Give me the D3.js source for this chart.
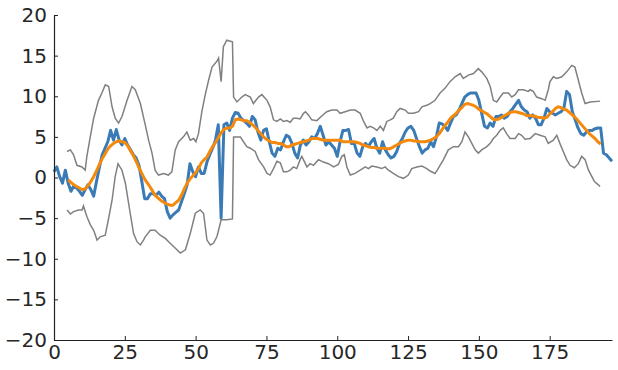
<!DOCTYPE html>
<html>
<head>
<meta charset="utf-8">
<script src="https://cdn.jsdelivr.net/npm/d3@7"></script>
<style>
  body { margin: 0; background: #fff; }
  svg { display: block; }
</style>
</head>
<body>
<svg width="618" height="370"></svg>
<script>
// raw signal, one value per step (x = 0..197)
var signal = [
  0.7, 1.3, 0.1, -0.7, 0.9, -0.7, -1.7, -1.0, -1.3, -1.7,
  -2.2, -1.5, -0.9, -1.5, -2.3, -0.5, 1.2, 2.8, 3.6, 4.4,
  5.8, 4.6, 5.9, 4.6, 4.0, 4.8, 4.0, 3.4, 2.8, 2.4,
  1.5, -0.5, -2.6, -2.6, -2.0, -2.0, -2.2, -1.8, -2.3, -2.6,
  -4.2, -5.0, -4.6, -4.3, -4.0, -3.0, -2.0, -0.9, 1.7, 0.7,
  0.1, 1.3, 0.5, 0.5, 1.9, 2.8, 3.6, 4.6, 6.5, -5.0,
  6.5, 6.7, 5.8, 7.3, 8.0, 7.9, 7.3, 7.0, 6.7, 6.3,
  7.5, 7.1, 5.6, 4.6, 5.8, 6.0, 4.4, 3.0, 2.6, 3.6,
  3.4, 4.4, 5.2, 5.0, 4.2, 3.0, 2.4, 4.0, 4.6, 4.0,
  4.4, 5.0, 4.8, 5.4, 6.3, 5.2, 4.0, 4.4, 4.0, 3.6,
  2.6, 4.4, 5.8, 5.8, 5.9, 4.2, 4.2, 3.0, 2.6, 3.8,
  4.2, 3.8, 4.4, 4.8, 3.6, 3.0, 4.4, 3.4, 2.8, 2.4,
  2.6, 3.2, 4.2, 4.8, 5.6, 6.1, 6.3, 5.8, 4.8, 3.8,
  3.0, 3.4, 3.6, 4.4, 3.8, 5.0, 6.7, 6.6, 6.3, 5.8,
  6.7, 7.5, 7.7, 8.3, 9.1, 9.9, 10.2, 10.4, 10.4, 10.4,
  9.5, 7.9, 6.3, 6.1, 6.7, 6.3, 7.5, 7.5, 7.7, 7.3,
  7.5, 8.1, 8.5, 9.0, 9.5, 8.7, 8.3, 8.1, 7.3, 7.7,
  7.3, 6.5, 6.5, 7.3, 8.5, 8.1, 7.9, 7.7, 7.9, 8.1,
  8.5, 10.6, 10.2, 8.1, 7.1, 6.1, 5.4, 5.2, 5.6, 5.8,
  5.8, 6.0, 6.1, 6.1, 3.0, 2.8, 2.4, 2.0
];

// smoothed signal, x = 5..193
var smoothStart = 5;
var smooth = [
  -0.3, -0.6, -0.9, -1.1, -1.3, -1.5, -1.4, -1.0, -0.5, 0.1,
  0.8, 1.6, 2.3, 2.9, 3.5, 3.9, 4.2, 4.4, 4.5, 4.4,
  4.3, 3.9, 3.3, 2.7, 2.0, 1.2, 0.5, -0.2, -0.7, -1.2,
  -1.8, -2.3, -2.6, -2.9, -3.1, -3.3, -3.4, -3.4, -3.1, -2.8,
  -2.2, -1.4, -0.7, -0.2, 0.2, 0.6, 1.1, 1.8, 2.2, 2.5,
  3.2, 3.8, 4.3, 4.9, 5.5, 5.9, 6.1, 6.1, 6.3, 7.1,
  7.2, 7.1, 7.0, 7.0, 6.8, 6.5, 6.2, 5.8, 5.4, 5.0,
  4.7, 4.5, 4.3, 4.3, 4.2, 4.2, 4.0, 3.8, 3.8, 4.0,
  4.1, 4.2, 4.3, 4.4, 4.5, 4.6, 4.8, 4.8, 4.8, 4.7,
  4.6, 4.6, 4.6, 4.6, 4.6, 4.6, 4.6, 4.4, 4.4, 4.4,
  4.4, 4.4, 4.3, 4.2, 4.0, 3.9, 3.8, 3.7, 3.7, 3.6,
  3.6, 3.6, 3.6, 3.5, 3.6, 3.8, 4.0, 4.2, 4.4, 4.5,
  4.6, 4.6, 4.5, 4.5, 4.4, 4.4, 4.4, 4.5, 4.6, 4.8,
  5.0, 5.4, 5.9, 6.4, 6.8, 7.3, 7.6, 7.9, 8.3, 8.6,
  9.0, 9.1, 9.0, 8.9, 8.7, 8.4, 8.2, 8.0, 7.8, 7.5,
  7.2, 7.1, 7.2, 7.4, 7.6, 7.8, 8.0, 8.1, 8.1, 8.0,
  7.9, 7.8, 7.6, 7.6, 7.6, 7.5, 7.4, 7.4, 7.3, 7.4,
  7.8, 8.1, 8.5, 8.7, 8.6, 8.4, 8.3, 8.0, 7.7, 7.4,
  7.0, 6.6, 6.2, 5.8, 5.4, 5.1, 4.8, 4.4, 4.1
];

// upper band, read as (x, value)
var upperX = [4.6, 5.8, 6.9, 8.1, 9.9, 11.0, 11.6, 12.8, 14.0, 15.7, 16.9, 18.1, 19.3, 20.5, 21.6, 22.8, 24.0, 25.8, 27.5, 28.7,
  30.5, 32.2, 33.4, 34.6, 35.7, 36.9, 38.7, 40.4, 41.6, 42.8, 44.0, 45.7, 46.9, 48.1, 49.3, 50.1, 51.0, 52.2, 53.4, 54.6,
  55.8, 57.5, 58.1, 59.0, 59.8, 61.0, 63.0, 63.4, 64.6, 66.3, 67.5, 69.3, 70.4, 72.2, 73.4, 75.2, 76.3, 77.5, 78.7, 79.9,
  81.0, 82.2, 83.4, 84.5, 85.7, 86.9, 88.1, 88.8, 89.8, 91.0, 92.8, 94.6, 96.3, 98.1, 99.9, 101.0, 102.8, 104.6, 106.3, 108.1,
  109.3, 110.5, 111.6, 112.8, 114.0, 115.2, 116.3, 117.5, 118.7, 119.8, 121.0, 122.2, 124.0, 125.1, 126.9, 128.7, 129.9, 131.6, 132.8, 134.5,
  136.3, 138.1, 139.8, 141.6, 143.4, 144.5, 146.3, 148.1, 149.8, 151.0, 152.8, 154.0, 155.1, 156.3, 157.5, 158.6, 160.4, 161.6, 162.8, 164.0,
  165.7, 167.5, 168.1, 169.2, 170.4, 172.2, 173.4, 174.5, 175.1, 176.3, 177.5, 179.3, 181.0, 182.8, 183.9, 185.1, 186.3, 187.5, 189.3, 192.8];
var upperY = [3.2, 3.4, 2.8, 1.5, 1.3, 0.9, 2.6, 5.0, 7.3, 9.5, 10.4, 11.4, 11.2, 8.7, 7.3, 6.7, 7.5, 9.5, 11.2, 10.8,
  9.1, 6.5, 4.6, 3.0, 0.9, 0.3, 0.5, 0.3, 0.7, 3.4, 4.4, 5.0, 5.6, 4.6, 4.8, 4.4, 5.4, 8.1, 10.2, 12.0,
  13.6, 14.3, 14.7, 11.8, 16.1, 16.9, 16.7, 9.9, 9.3, 9.9, 10.2, 9.9, 9.1, 9.9, 10.2, 9.5, 8.7, 7.1, 6.9, 7.2,
  6.9, 7.0, 6.8, 7.3, 7.3, 7.2, 7.9, 8.1, 7.7, 7.1, 7.0, 7.6, 8.1, 8.3, 8.3, 7.9, 8.1, 8.3, 8.3, 7.9,
  6.9, 6.1, 6.3, 6.1, 5.8, 6.3, 5.8, 6.9, 7.1, 7.3, 8.1, 8.5, 8.3, 7.9, 7.9, 8.1, 8.7, 8.9, 9.1, 9.5,
  10.4, 11.0, 11.8, 12.4, 12.8, 12.2, 12.6, 12.8, 13.4, 13.0, 12.2, 11.2, 9.5, 9.3, 9.9, 10.4, 10.4, 9.9, 10.2, 10.8,
  10.8, 10.6, 10.8, 10.6, 9.9, 9.7, 9.5, 10.8, 11.8, 12.4, 12.2, 12.4, 13.0, 13.8, 13.6, 12.0, 10.4, 9.1, 9.3, 9.4];

// lower band, read as (x, value)
var lowerX = [4.6, 5.8, 6.9, 8.7, 9.9, 10.4, 11.6, 12.8, 14.0, 15.2, 16.3, 18.1, 19.3, 20.5, 21.6, 22.6, 24.0, 25.2, 26.9, 28.1,
  29.3, 30.5, 31.6, 32.2, 34.0, 35.7, 37.5, 39.3, 41.0, 42.2, 43.4, 44.6, 46.4, 48.1, 49.9, 51.6, 52.8, 54.0, 55.2, 56.3,
  57.5, 58.1, 59.0, 61.0, 63.0, 63.4, 64.6, 65.8, 66.9, 68.1, 69.3, 71.0, 72.2, 74.0, 75.2, 76.3, 77.5, 78.7, 79.9, 81.0,
  82.2, 83.4, 84.5, 85.7, 86.9, 87.5, 89.3, 90.4, 91.6, 93.4, 95.1, 96.9, 98.7, 100.4, 101.6, 102.5, 103.4, 104.6, 106.3, 108.1,
  109.9, 111.0, 112.2, 114.0, 115.7, 116.9, 118.1, 119.8, 121.6, 123.4, 125.1, 126.3, 128.1, 129.9, 131.6, 132.8, 134.5, 135.3, 137.5, 139.2,
  141.0, 142.8, 144.0, 145.1, 146.3, 147.5, 148.7, 149.8, 151.0, 152.8, 154.0, 155.1, 156.3, 157.5, 158.6, 159.8, 161.0, 162.8, 164.0, 165.1,
  166.3, 168.1, 169.9, 171.6, 173.4, 174.5, 176.3, 177.5, 178.6, 179.8, 181.0, 182.2, 183.7, 185.1, 186.3, 187.5, 188.7, 189.9, 190.8, 192.8];
var lowerY = [-4.0, -4.5, -4.2, -4.0, -4.0, -3.5, -4.8, -5.8, -6.5, -7.7, -7.3, -7.1, -5.0, -2.8, 0.1, 1.7, 0.9, -0.7, -4.4, -6.9,
  -7.9, -8.3, -7.7, -7.3, -6.5, -6.5, -7.1, -7.5, -8.1, -8.5, -8.9, -9.3, -8.9, -6.9, -4.4, -4.0, -4.4, -7.7, -8.3, -8.1,
  -7.3, -6.5, -5.2, -5.2, -5.1, 5.0, 5.0, 5.0, 4.4, 3.8, 3.6, 3.2, 2.2, 1.3, 0.5, 0.3, 1.1, 2.0, 1.8, 0.7,
  0.7, 0.9, 1.3, 1.1, 2.2, 2.6, 1.3, 1.7, 1.5, 2.2, 1.9, 1.7, 1.3, 1.6, 2.6, 2.8, 1.3, 0.3, 0.5, 0.9,
  1.3, 1.1, 1.4, 1.3, 1.1, 1.3, 0.9, 0.5, 0.1, -0.1, 0.3, 1.1, 1.3, 1.4, 1.1, 0.8, 0.5, 0.9, 2.2, 3.4,
  3.8, 3.8, 4.4, 5.6, 5.0, 4.2, 3.4, 3.0, 3.4, 3.8, 4.2, 4.8, 5.2, 5.8, 6.1, 5.4, 4.8, 4.8, 5.4, 5.2,
  4.7, 4.8, 5.4, 5.2, 5.0, 4.2, 4.6, 5.2, 4.2, 3.2, 2.2, 1.5, 1.2, 1.7, 2.6, 2.2, 0.9, 0.1, -0.5, -1.1];

var yTicks = [-20, -15, -10, -5, 0, 5, 10, 15, 20];
var xTicks = [0, 25, 50, 75, 100, 125, 150, 175];

(function () {
  var svg = d3.select("svg");
  var plotLeft = 54, plotRight = 612, plotTop = 15, plotBottom = 340;

  var x = d3.scaleLinear().domain([0, 197]).range([plotLeft, plotRight]);
  var y = d3.scaleLinear().domain([-20, 20]).range([plotBottom, plotTop]);

  var line = d3.line()
    .x(function (d) { return x(d[0]); })
    .y(function (d) { return y(d[1]); });

  var upperPts = upperX.map(function (v, i) { return [v, upperY[i]]; });
  var lowerPts = lowerX.map(function (v, i) { return [v, lowerY[i]]; });
  var signalPts = signal.map(function (v, i) { return [i, v]; });
  var smoothPts = smooth.map(function (v, i) { return [i + smoothStart, v]; });

  svg.append("path").datum(upperPts)
    .attr("d", line).attr("fill", "none")
    .attr("stroke", "#808080").attr("stroke-width", 1.5);
  svg.append("path").datum(lowerPts)
    .attr("d", line).attr("fill", "none")
    .attr("stroke", "#808080").attr("stroke-width", 1.5);
  svg.append("path").datum(signalPts)
    .attr("d", line).attr("fill", "none")
    .attr("stroke", "#3a7bb6").attr("stroke-width", 3)
    .attr("stroke-linejoin", "round");
  svg.append("path").datum(smoothPts)
    .attr("d", line).attr("fill", "none")
    .attr("stroke", "#f5890b").attr("stroke-width", 3)
    .attr("stroke-linejoin", "round");

  // axes, ticks pointing inward
  var yAxis = d3.axisLeft(y).tickValues(yTicks).tickSizeInner(-4).tickSizeOuter(0).tickPadding(7);
  var xAxis = d3.axisBottom(x).tickValues(xTicks).tickSizeInner(-4).tickSizeOuter(0).tickPadding(5);

  var gy = svg.append("g").attr("transform", "translate(" + plotLeft + ",0)").call(yAxis);
  var gx = svg.append("g").attr("transform", "translate(0," + plotBottom + ")").call(xAxis);

  [gx, gy].forEach(function (g) {
    g.select(".domain").attr("stroke", "#222").attr("stroke-width", 1.2);
    g.selectAll(".tick line").attr("stroke", "#222");
    g.selectAll(".tick text")
      .attr("font-family", "DejaVu Sans, sans-serif")
      .attr("font-size", 20)
      .attr("fill", "#262626");
  });
  gy.selectAll(".tick text").text(function (d) { return d < 0 ? "\u2212" + Math.abs(d) : d; });
})();
</script>
</body>
</html>
